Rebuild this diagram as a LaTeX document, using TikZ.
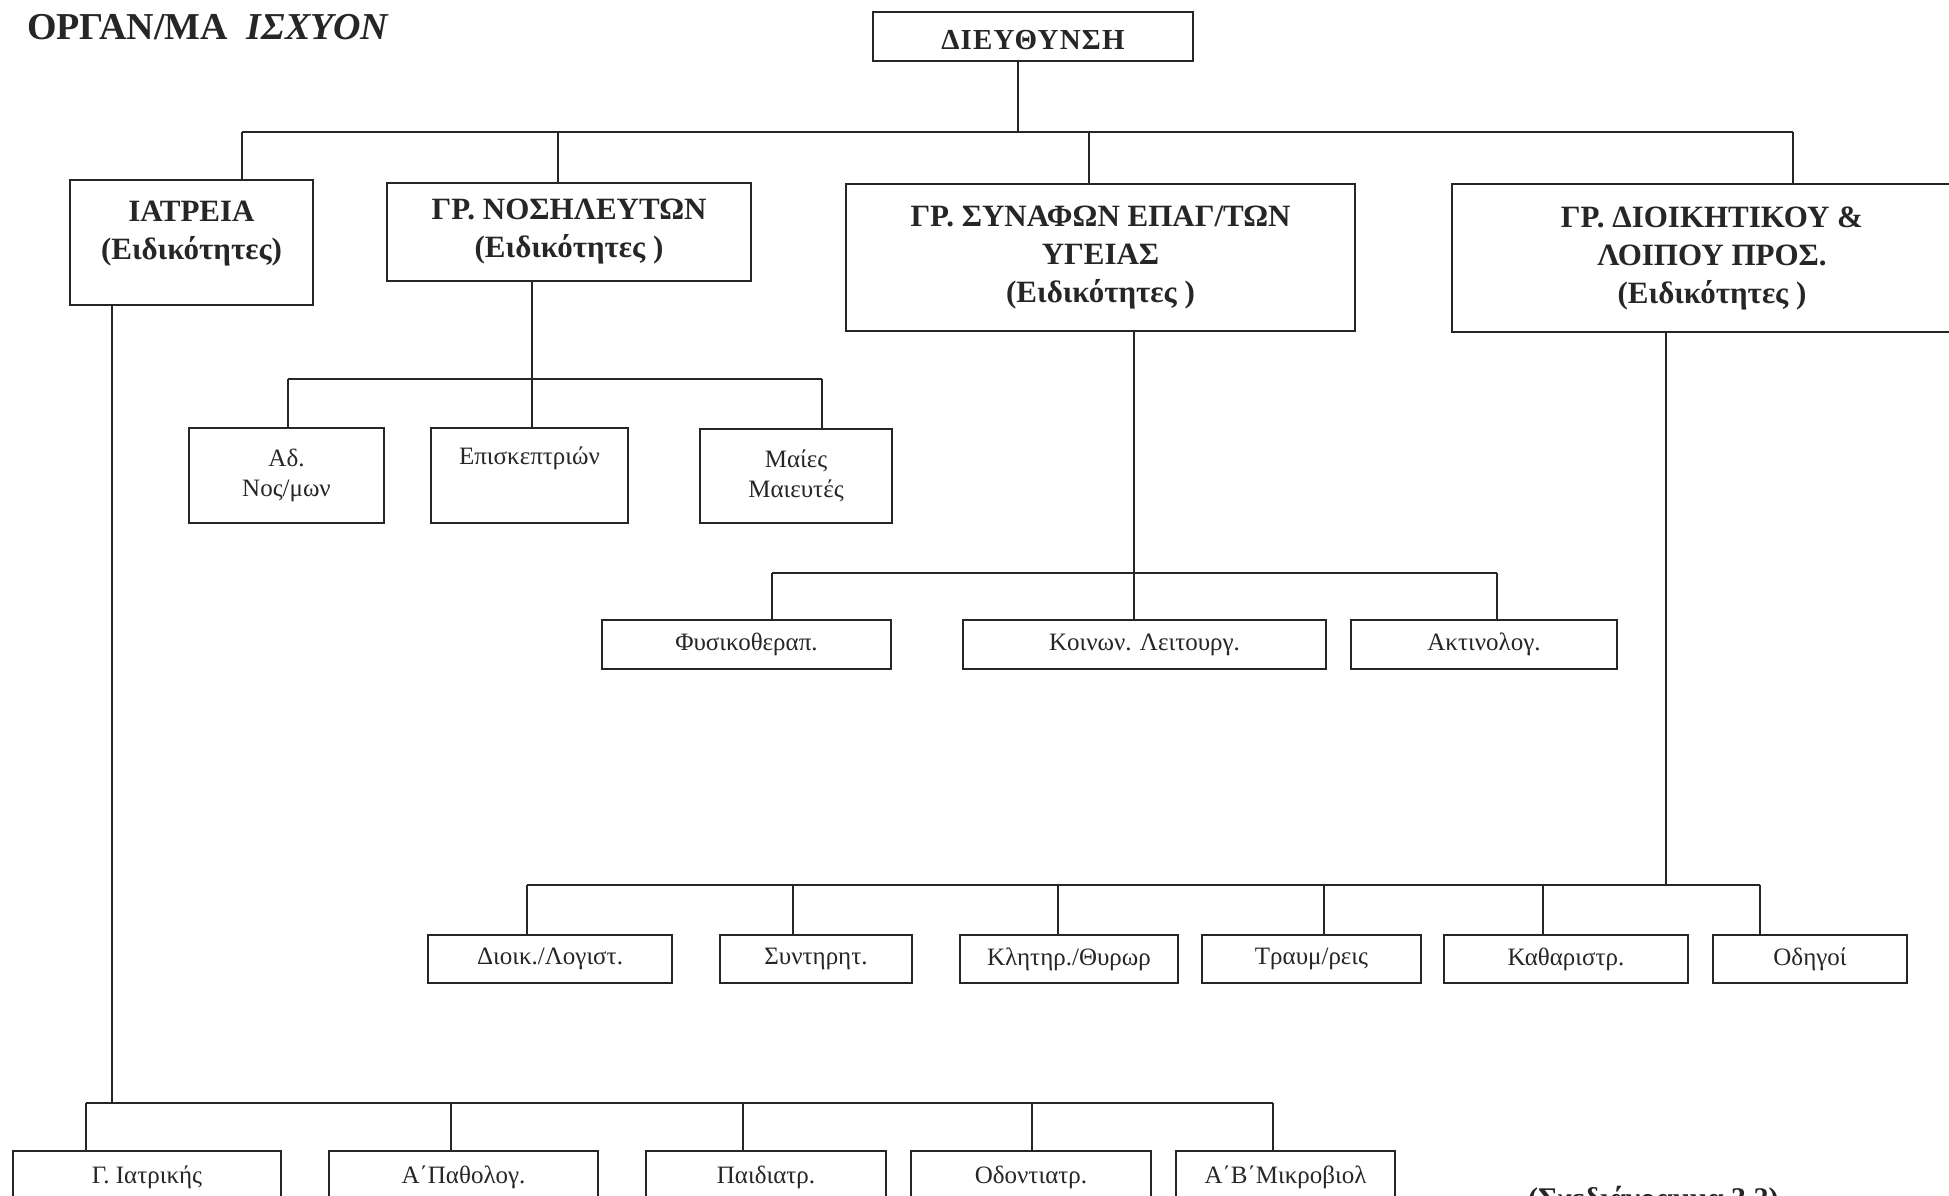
\documentclass[tikz,border=0pt]{standalone}
\usepackage{fontspec}
\setmainfont{Liberation Serif}
\definecolor{ink}{HTML}{262626}
\tikzset{
  conn/.style={draw=ink, line width=1.6pt},
  boxbase/.style={draw=ink, line width=2pt, inner sep=0pt, align=center, text=ink},
  topbox/.style={boxbase, font=\fontsize{31}{38}\selectfont\bfseries},
  subbox/.style={boxbase, font=\fontsize{25}{30}\selectfont},
}
\begin{document}
\begin{tikzpicture}[x=1pt,y=-1pt]
\useasboundingbox (0,0) rectangle (1949,1196);
\clip (0,0) rectangle (1949,1196);
\fill[white] (0,0) rectangle (1949,1196);

% title
\node[anchor=base west, inner sep=0pt, text=ink, font=\fontsize{38}{44}\selectfont\bfseries] (title) at (27,40) {ΟΡΓΑΝ/ΜΑ\ \ \textit{ΙΣΧΥΟΝ}};

% director
\node[boxbase, minimum width=320pt, minimum height=49pt, text height=28pt, text depth=1pt, font=\fontsize{29}{30}\selectfont\bfseries\addfontfeature{LetterSpace=4}] (dir) at (1033,36.5) {ΔΙΕΥΘΥΝΣΗ};

% top level
\node[topbox, minimum width=243pt, minimum height=125pt, text depth=25pt] (iat) at (191.5,242.5) {ΙΑΤΡΕΙΑ\\(Ειδικότητες)};
\node[topbox, minimum width=364pt, minimum height=98pt] (nos) at (569,232) {ΓΡ. ΝΟΣΗΛΕΥΤΩΝ\\(Ειδικότητες )};
\node[topbox, minimum width=509pt, minimum height=147pt] (syn) at (1100.5,257.5) {ΓΡ. ΣΥΝΑΦΩΝ ΕΠΑΓ/ΤΩΝ\\ΥΓΕΙΑΣ\\(Ειδικότητες )};
\node[topbox, minimum width=520pt, minimum height=148pt] (dio) at (1712,258) {ΓΡ. ΔΙΟΙΚΗΤΙΚΟΥ \&\\ΛΟΙΠΟΥ ΠΡΟΣ.\\(Ειδικότητες )};

% nursing subtree
\node[subbox, minimum width=195pt, minimum height=95pt] (ados) at (286.5,475.5) {Αδ.\\Νος/μων};
\node[subbox, minimum width=197pt, minimum height=95pt] (epis) at (529.5,475.5) {Επισκεπτριών\\\strut};
\node[subbox, minimum width=192pt, minimum height=94pt] (maies) at (796,476) {Μαίες\\Μαιευτές};

% allied health subtree
\node[subbox, minimum width=289pt, minimum height=49pt] (fys) at (746.5,644.5) {Φυσικοθεραπ.};
\node[subbox, minimum width=363pt, minimum height=49pt] (koin) at (1144.5,644.5) {Κοινων. Λειτουργ.};
\node[subbox, minimum width=266pt, minimum height=49pt] (akt) at (1484,644.5) {Ακτινολογ.};

% admin subtree
\node[subbox, minimum width=244pt, minimum height=48pt] (dlog) at (550,959) {Διοικ./Λογιστ.};
\node[subbox, minimum width=192pt, minimum height=48pt] (synt) at (816,959) {Συντηρητ.};
\node[subbox, minimum width=218pt, minimum height=48pt] (klit) at (1069,959) {Κλητηρ./Θυρωρ};
\node[subbox, minimum width=219pt, minimum height=48pt] (trav) at (1311.5,959) {Τραυμ/ρεις};
\node[subbox, minimum width=244pt, minimum height=48pt] (kath) at (1566,959) {Καθαριστρ.};
\node[subbox, minimum width=194pt, minimum height=48pt] (odig) at (1810,959) {Οδηγοί};

% clinics subtree
\node[subbox, minimum width=268pt, minimum height=52pt] (giat) at (147,1177) {Γ. Ιατρικής};
\node[subbox, minimum width=269pt, minimum height=52pt] (path) at (463.5,1177) {Α΄Παθολογ.};
\node[subbox, minimum width=240pt, minimum height=52pt] (paid) at (766,1177) {Παιδιατρ.};
\node[subbox, minimum width=240pt, minimum height=52pt] (odon) at (1031,1177) {Οδοντιατρ.};
\node[subbox, minimum width=219pt, minimum height=52pt] (mikr) at (1285.5,1177) {Α΄Β΄Μικροβιολ};

% caption
\node[anchor=base west, inner sep=0pt, text=ink, font=\fontsize{30}{34}\selectfont\bfseries] (cap) at (1528,1208) {(Σχεδιάγραμμα 3.2)};

% top bus
\coordinate (d0) at (1018,132);
\coordinate (t1) at (242,132);
\coordinate (t2) at (558,132);
\coordinate (t3) at (1089,132);
\coordinate (t4) at (1793,132);
\draw[conn] (d0 |- dir.south) -- (d0);
\draw[conn] (t1) -- (t4);
\draw[conn] (t1) -- (t1 |- iat.north);
\draw[conn] (t2) -- (t2 |- nos.north);
\draw[conn] (t3) -- (t3 |- syn.north);
\draw[conn] (t4) -- (t4 |- dio.north);

% nursing bus
\coordinate (n0) at (532,379);
\coordinate (n1) at (288,379);
\coordinate (n3) at (822,379);
\draw[conn] (n0 |- nos.south) -- (n0);
\draw[conn] (n1) -- (n3);
\draw[conn] (n1) -- (n1 |- ados.north);
\draw[conn] (n0) -- (n0 |- epis.north);
\draw[conn] (n3) -- (n3 |- maies.north);

% allied bus
\coordinate (s0) at (1134,573);
\coordinate (s1) at (772,573);
\coordinate (s3) at (1497,573);
\draw[conn] (s0 |- syn.south) -- (s0);
\draw[conn] (s1) -- (s3);
\draw[conn] (s1) -- (s1 |- fys.north);
\draw[conn] (s0) -- (s0 |- koin.north);
\draw[conn] (s3) -- (s3 |- akt.north);

% admin bus
\coordinate (a0) at (1666,885);
\coordinate (a1) at (527,885);
\coordinate (a2) at (793,885);
\coordinate (a3) at (1058,885);
\coordinate (a4) at (1324,885);
\coordinate (a5) at (1543,885);
\coordinate (a6) at (1760,885);
\draw[conn] (a0 |- dio.south) -- (a0);
\draw[conn] (a1) -- (a6);
\draw[conn] (a1) -- (a1 |- dlog.north);
\draw[conn] (a2) -- (a2 |- synt.north);
\draw[conn] (a3) -- (a3 |- klit.north);
\draw[conn] (a4) -- (a4 |- trav.north);
\draw[conn] (a5) -- (a5 |- kath.north);
\draw[conn] (a6) -- (a6 |- odig.north);

% clinics bus
\coordinate (c0) at (112,1103);
\coordinate (c1) at (86,1103);
\coordinate (c2) at (451,1103);
\coordinate (c3) at (743,1103);
\coordinate (c4) at (1032,1103);
\coordinate (c5) at (1273,1103);
\draw[conn] (c0 |- iat.south) -- (c0);
\draw[conn] (c1) -- (c5);
\draw[conn] (c1) -- (c1 |- giat.north);
\draw[conn] (c2) -- (c2 |- path.north);
\draw[conn] (c3) -- (c3 |- paid.north);
\draw[conn] (c4) -- (c4 |- odon.north);
\draw[conn] (c5) -- (c5 |- mikr.north);
\end{tikzpicture}
\end{document}
